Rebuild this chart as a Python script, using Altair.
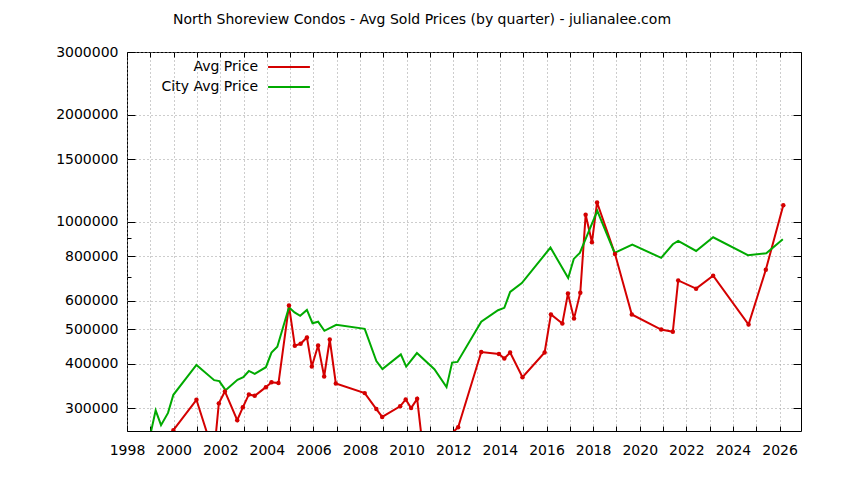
import altair as alt
import pandas as pd

# City Avg Price (green)
city_year = [1998.97, 1999.23, 1999.46, 1999.76, 1999.99, 2000.98, 2001.74, 2001.96, 2002.23, 2002.74,
             2002.99, 2003.23, 2003.48, 2003.96, 2004.20, 2004.45, 2004.95, 2005.19, 2005.43, 2005.72,
             2005.96, 2006.20, 2006.47, 2006.98, 2008.20, 2008.70, 2008.96, 2009.75, 2009.98, 2010.44,
             2011.19, 2011.71, 2011.95, 2012.18, 2013.20, 2013.92, 2014.19, 2014.44, 2014.94, 2016.17,
             2016.93, 2017.17, 2017.43, 2018.18, 2018.92, 2019.68, 2020.92, 2021.42, 2021.65, 2022.42,
             2023.15, 2024.64, 2025.43, 2026.14]
city_price = [247000, 295500, 268500, 290700, 326800, 396300, 359300, 357000, 336700, 360000,
              366300, 381300, 374000, 390600, 429200, 445800, 575800, 556600, 544500, 566000,
              519300, 524300, 494300, 513800, 500800, 406600, 386200, 424400, 392300, 428100,
              385500, 343400, 402500, 404200, 524300, 564800, 573500, 635600, 673200, 846700,
              695800, 787000, 818300, 1074000, 818300, 863300, 792400, 865300, 883900, 828700,
              905200, 806500, 816600, 893700]

# Avg Price (red)
avg_year = [1999.99, 2000.98, 2001.73, 2001.94, 2002.20, 2002.73, 2002.97, 2003.23, 2003.48, 2003.96,
            2004.20, 2004.50, 2004.95, 2005.20, 2005.45, 2005.72, 2005.93, 2006.20, 2006.46, 2006.70,
            2006.96, 2008.20, 2008.70, 2008.95, 2009.72, 2009.96, 2010.19, 2010.45, 2010.75, 2012.21,
            2013.20, 2013.96, 2014.19, 2014.44, 2014.97, 2015.92, 2016.19, 2016.68, 2016.92, 2017.18,
            2017.45, 2017.68, 2017.95, 2018.17, 2018.94, 2019.66, 2020.92, 2021.42, 2021.65, 2022.42,
            2023.15, 2024.67, 2025.41, 2026.16]
avg_price = [260000, 316400, 222000, 309200, 334000, 277200, 301400, 327600, 324700, 343400,
             354600, 352500, 582000, 449000, 454500, 473600, 392300, 449800, 367900, 467300,
             351700, 330400, 298000, 283300, 303300, 317200, 300000, 318400, 215000, 265000,
             431000, 425500, 413200, 429800, 366300, 429800, 549500, 518200, 628800, 534900,
             632600, 1046700, 876400, 1133800, 812000, 549500, 498500, 491200, 684700, 649300,
             705700, 514700, 733500, 1114000]

series_names = ["Avg Price", "City Avg Price"]
series_colors = ["#d40000", "#00aa00"]
x_ticks = list(range(1998, 2027))
y_ticks = [300000, 400000, 500000, 600000, 800000, 1000000, 1500000, 2000000, 3000000]
y_minor_ticks = [700000, 900000]

df_avg = pd.DataFrame({"year": avg_year, "price": avg_price, "series": series_names[0]})
df_city = pd.DataFrame({"year": city_year, "price": city_price, "series": series_names[1]})
df = pd.concat([df_avg, df_city], ignore_index=True)

FONT = "DejaVu Sans"
FS = 14
x_scale = alt.Scale(domain=[1998, 2026.92], nice=False, zero=False)
y_scale = alt.Scale(type="log", domain=[258600, 3000000], nice=False)


def tick_axis(orient, values, size):
    # tick-only axis pushed inside the frame so ticks point inward
    return alt.Axis(orient=orient, values=values, title=None, labels=False, grid=False,
                    domain=False, ticks=True, tickSize=size, tickColor="black",
                    tickWidth=1, offset=-size)


x_main = alt.X("year:Q", scale=x_scale,
               axis=alt.Axis(values=x_ticks, title=None,
                             labelExpr="datum.value % 2 == 0 ? format(datum.value, 'd') : ''",
                             grid=True, gridDash=[1, 3], gridColor="#9a9a9a", gridWidth=1,
                             ticks=False, domain=False,
                             labelFontSize=FS, labelColor="black", labelFont=FONT,
                             labelPadding=12, labelFlush=False))
y_main = alt.Y("price:Q", scale=y_scale,
               axis=alt.Axis(values=y_ticks, title=None, format="d",
                             grid=True, gridDash=[1, 3], gridColor="#9a9a9a", gridWidth=1,
                             ticks=False, domain=False,
                             labelFontSize=FS, labelColor="black", labelFont=FONT,
                             labelPadding=9, labelFlush=False))
color_enc = alt.Color("series:N",
                      scale=alt.Scale(domain=series_names, range=series_colors),
                      legend=alt.Legend(title=None, orient="none", legendX=155, legendY=8,
                                        symbolType="M-5,0H5", symbolSize=70, symbolStrokeWidth=2,
                                        labelAlign="right", labelOffset={"expr": "-38"},
                                        labelFontSize=FS, labelFont=FONT, labelColor="black",
                                        rowPadding=6, padding=0))

lines = alt.Chart(df).mark_line(strokeWidth=2, clip=True).encode(
    x=x_main, y=y_main, color=color_enc, order="year:Q")

points = alt.Chart(df_avg).mark_point(filled=True, size=20, opacity=1, clip=True,
                                      color=series_colors[0]).encode(
    x=alt.X("year:Q", scale=x_scale, axis=tick_axis("bottom", x_ticks, 5)),
    y=alt.Y("price:Q", scale=y_scale, axis=tick_axis("left", y_ticks, 8)))

base_hidden = alt.Chart(df_avg).mark_point(opacity=0, clip=True)

mirror = base_hidden.encode(
    x=alt.X("year:Q", scale=x_scale, axis=tick_axis("top", x_ticks, 5)),
    y=alt.Y("price:Q", scale=y_scale, axis=tick_axis("right", y_ticks, 8)))

minor_left = base_hidden.encode(
    x=alt.X("year:Q", scale=x_scale, axis=None),
    y=alt.Y("price:Q", scale=y_scale, axis=tick_axis("left", y_minor_ticks, 4)))

minor_right = base_hidden.encode(
    x=alt.X("year:Q", scale=x_scale, axis=None),
    y=alt.Y("price:Q", scale=y_scale, axis=tick_axis("right", y_minor_ticks, 4)))

chart = alt.layer(lines, points, mirror, minor_left, minor_right).resolve_axis(
    x="independent", y="independent"
).properties(
    width=674, height=379,
    title=alt.TitleParams("North Shoreview Condos - Avg Sold Prices (by quarter) - julianalee.com",
                          fontSize=FS, font=FONT, fontWeight="normal", color="black",
                          anchor="middle", dx=-42, offset=18),
    autosize=alt.AutoSizeParams(type="none"),
    padding={"left": 119, "top": 44, "right": 35, "bottom": 41},
).configure_view(stroke="black", strokeWidth=1)

chart.save("out.html", embed_options={"renderer": "svg", "actions": False})
